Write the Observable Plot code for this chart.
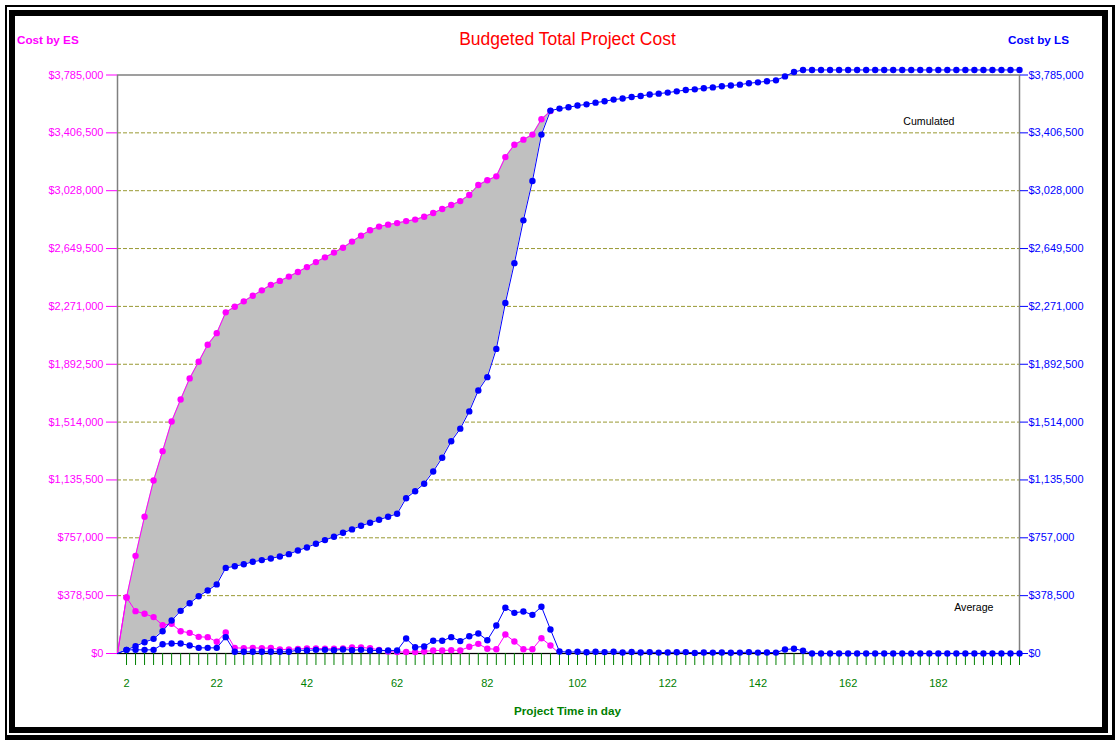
<!DOCTYPE html>
<html>
<head>
<meta charset="utf-8">
<script src="https://cdn.jsdelivr.net/npm/d3@7"></script>
<script src="https://cdn.jsdelivr.net/npm/@observablehq/plot@0.6"></script>
<style>
  html, body { margin: 0; padding: 0; background: #fff; }
  #wrap { position: relative; width: 1117px; height: 742px; background: #fff; overflow: hidden; font-family: "Liberation Sans", Arial, sans-serif; }
  #wrap svg { position: absolute; left: 0; top: 0; }
  .lbl { position: absolute; white-space: nowrap; line-height: 1; }
  .bord { position: absolute; box-sizing: border-box; border-style: solid; border-color: #000; pointer-events: none; }
</style>
</head>
<body>
<div id="wrap">
  <div class="bord" style="left:5px;top:5px;width:1110px;height:735px;border-width:2px 3px 5px 2px;"></div>
  <div class="bord" style="left:9px;top:10px;width:1099px;height:723px;border-width:6px;"></div>
  <div class="lbl" style="left:17px;top:33.5px;font-size:11.7px;font-weight:bold;color:#ff00ff;">Cost by ES</div>
  <div class="lbl" style="right:48px;top:33.5px;font-size:11.7px;font-weight:bold;color:#0000ff;">Cost by LS</div>
  <div class="lbl" style="left:0;width:1135px;text-align:center;top:30.5px;font-size:17.5px;color:#ff0000;">Budgeted Total Project Cost</div>
  <div class="lbl" style="left:0;width:1135px;text-align:center;top:704.5px;font-size:11.7px;font-weight:bold;color:#008000;">Project Time in day</div>
</div>
<script>
// x categories: project days (every 2 days)
const days = [0,2,4,6,8,10,12,14,16,18,20,22,24,26,28,30,32,34,36,38,40,42,44,46,48,50,52,54,56,58,60,62,64,66,68,70,72,74,76,78,80,82,84,86,88,90,92,94,96,98,100,102,104,106,108,110,112,114,116,118,120,122,124,126,128,130,132,134,136,138,140,142,144,146,148,150,152,154,156,158,160,162,164,166,168,170,172,174,176,178,180,182,184,186,188,190,192,194,196,198,200];

// Cumulated cost by ES (days 0..96)
const esCumulated = [0,367000,639000,895000,1132000,1324000,1518000,1662000,1800000,1909000,2020000,2096000,2232000,2269000,2304000,2341000,2376000,2412000,2438000,2466000,2496000,2528000,2561000,2592000,2623000,2655000,2695000,2734000,2769000,2793000,2806000,2816000,2829000,2839000,2858000,2882000,2908000,2934000,2960000,3000000,3065000,3096000,3122000,3248000,3329000,3362000,3395000,3495000,3549000];

// Cumulated cost by LS (days 0..200)
const lsCumulated = [0,24000,48000,74000,96000,146000,216000,279000,329000,375000,412000,452000,560000,571000,584000,600000,611000,622000,635000,650000,674000,694000,718000,742000,764000,790000,812000,836000,855000,875000,895000,914000,1016000,1062000,1111000,1191000,1281000,1389000,1471000,1584000,1721000,1808000,1993000,2293000,2554000,2834000,3091000,3395000,3552000,3565000,3574000,3585000,3593000,3604000,3613000,3624000,3631000,3641000,3648000,3657000,3663000,3670000,3678000,3687000,3691000,3698000,3704000,3711000,3716000,3722000,3731000,3737000,3744000,3750000,3776000,3805000,3818000,3818000,3818000,3818000,3818000,3818000,3818000,3818000,3818000,3818000,3818000,3818000,3818000,3818000,3818000,3818000,3818000,3818000,3818000,3818000,3818000,3818000,3818000,3818000,3818000];

// Average (per period) cost by ES (days 0..98)
const esAverage = [0,367000,277000,260000,238000,185000,194000,146000,135000,109000,107000,77000,137000,37000,35000,37000,35000,36000,26000,27000,30000,33000,33000,31000,31000,33000,39000,39000,35000,24000,13000,9000,10000,9000,13000,20000,20000,22000,20000,44000,63000,31000,28000,124000,79000,28000,28000,100000,52000,0];

// Average (per period) cost by LS (days 0..200)
const lsAverage = [0,24000,24000,24000,24000,61000,65000,65000,52000,37000,37000,37000,107000,11000,11000,11000,11000,11000,11000,11000,22000,20000,24000,24000,22000,26000,22000,24000,20000,20000,20000,20000,98000,41000,46000,83000,83000,107000,81000,113000,131000,87000,183000,299000,266000,275000,253000,306000,157000,13000,9000,11000,8000,11000,9000,11000,7000,10000,7000,9000,6000,7000,8000,9000,4000,7000,6000,7000,5000,6000,9000,6000,7000,6000,26000,31000,18000,0,0,0,0,0,0,0,0,0,0,0,0,0,0,0,0,0,0,0,0,0,0,0,0];

// Axis ticks
const yTicks = [0,378500,757000,1135500,1514000,1892500,2271000,2649500,3028000,3406500,3785000];
const gridValues = [378500,757000,1135500,1514000,1892500,2271000,2649500,3028000,3406500];
const xTickMarks = days.filter(d => d > 0);
const xTickLabels = [2,22,42,62,82,102,122,142,162,182];

const toRows = (arr) => arr.map((v, i) => ({day: days[i], value: v}));
const esCum = toRows(esCumulated);
const lsCum = toRows(lsCumulated);
const esAvg = toRows(esAverage);
const lsAvg = toRows(lsAverage);
const band = esCumulated.map((v, i) => ({day: days[i], es: v, ls: lsCumulated[i]}));

const MAGENTA = "#ff00ff", BLUE = "#0000ff", GREEN = "#008000";
const fmt = d3.format("$,");

const chart = Plot.plot({
  width: 1117,
  height: 742,
  marginLeft: 117,
  marginRight: 98,
  marginTop: 74.5,
  marginBottom: 89,
  x: {domain: [0, 200], label: null},
  y: {domain: [0, 3785000], label: null},
  style: {fontFamily: "'Liberation Sans', Arial, sans-serif", fontSize: "11px", background: "transparent", overflow: "visible"},
  marks: [
    Plot.ruleY(gridValues, {stroke: "#999933", strokeDasharray: "4,2", strokeWidth: 1}),
    Plot.areaY(band, {x: "day", y1: "ls", y2: "es", fill: "#c0c0c0"}),
    Plot.frame({stroke: "#808080", strokeWidth: 1.5}),
    Plot.ruleY([0], {stroke: "#000", strokeWidth: 1}),
    Plot.axisY({anchor: "left", ticks: yTicks, tickFormat: fmt, tickSize: 11, tickPadding: 3, stroke: MAGENTA, fill: MAGENTA, label: null}),
    Plot.axisY({anchor: "right", ticks: yTicks, tickFormat: fmt, tickSize: 8, tickPadding: 1, stroke: BLUE, fill: BLUE, label: null}),
    Plot.axisX({ticks: xTickMarks, tickSize: 12, tickFormat: () => "", stroke: GREEN, label: null}),
    Plot.axisX({ticks: xTickLabels, tickSize: 0, tickPadding: 26, fill: GREEN, label: null}),
    Plot.line(esCum, {x: "day", y: "value", stroke: MAGENTA, strokeWidth: 1}),
    Plot.dot(esCum.slice(1), {x: "day", y: "value", fill: MAGENTA, r: 3.2}),
    Plot.line(esAvg, {x: "day", y: "value", stroke: MAGENTA, strokeWidth: 1}),
    Plot.dot(esAvg.slice(1, -1), {x: "day", y: "value", fill: MAGENTA, r: 3.2}),
    Plot.line(lsCum, {x: "day", y: "value", stroke: BLUE, strokeWidth: 1}),
    Plot.dot(lsCum.slice(1), {x: "day", y: "value", fill: BLUE, r: 3.2}),
    Plot.line(lsAvg, {x: "day", y: "value", stroke: BLUE, strokeWidth: 1}),
    Plot.dot(lsAvg.slice(1), {x: "day", y: "value", fill: BLUE, r: 3.2}),
    Plot.text(["Cumulated"], {frameAnchor: "top-right", dx: -65, dy: 42, fill: "#000", fontSize: 10.6, lineAnchor: "top", textAnchor: "end"}),
    Plot.text(["Average"], {frameAnchor: "top-right", dx: -26, dy: 528, fill: "#000", fontSize: 10.6, lineAnchor: "top", textAnchor: "end"})
  ]
});
document.getElementById("wrap").appendChild(chart);
</script>
</body>
</html>
